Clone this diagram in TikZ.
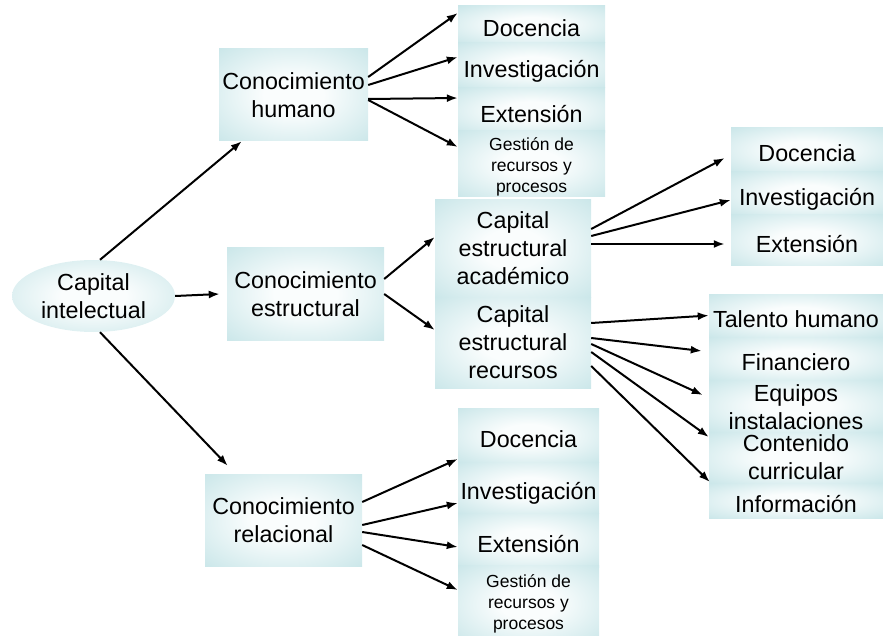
\documentclass[tikz,border=0pt]{standalone}
\usepackage{fontspec}
\setmainfont{Liberation Sans}
\usetikzlibrary{arrows.meta,shapes.geometric}
\definecolor{cellout}{RGB}{180,220,224}
\definecolor{cellin}{RGB}{250,253,253}
\pgfdeclareradialshading{cellshade}{\pgfpoint{0bp}{0bp}}{color(0bp)=(cellin); color(10bp)=(cellin); color(48bp)=(cellout); color(100bp)=(cellout)}

\begin{document}
\begin{tikzpicture}[x=1pt,y=1pt,
  cell/.style={rectangle, shading=cellshade, inner sep=0pt, align=center, font=\fontsize{23.3}{28}\selectfont},
  onecell/.style={cell, text height=24pt, text depth=0pt},
  smallcell/.style={cell, font=\fontsize{17.5}{21}\selectfont},
  link/.style={draw, line width=2pt, -{Latex[length=11pt,width=8pt]}}]
\path[use as bounding box] (0,0) rectangle (883,-636);

\node[cell, ellipse, minimum width=163pt, minimum height=72pt] (ci) at (93.5,-296) {Capital\\intelectual};

\node[cell, minimum width=149pt, minimum height=92pt] (hum) at (293.5,-95) {Conocimiento\\humano};
\node[cell, minimum width=157pt, minimum height=92pt] (est) at (305.5,-294) {Conocimiento\\estructural};
\node[cell, minimum width=157pt, minimum height=92pt] (rel) at (283.5,-520) {Conocimiento\\relacional};

\node[onecell, minimum width=147pt, minimum height=37pt] (hdoc) at (531.5,-24.5) {Docencia};
\node[onecell, minimum width=147pt, minimum height=45pt] (hinv) at (531.5,-65.5) {Investigación};
\node[onecell, minimum width=147pt, minimum height=45pt] (hext) at (531.5,-110.5) {Extensión};
\node[smallcell, minimum width=147pt, minimum height=61pt] (hges) at (531.5,-163.5) {\rule{0pt}{20pt}Gestión de\\recursos y\\procesos};

\node[cell, minimum width=156pt, minimum height=97pt] (acad) at (513,-248.5) {Capital\\estructural\\académico};
\node[cell, minimum width=156pt, minimum height=91pt] (recu) at (513,-342.5) {Capital\\estructural\\recursos};

\node[onecell, minimum width=152pt, minimum height=44pt] (adoc) at (807,-150) {Docencia};
\node[onecell, minimum width=152pt, minimum height=43pt] (ainv) at (807,-193.5) {Investigación};
\node[onecell, minimum width=152pt, minimum height=51pt] (aext) at (807,-240.5) {Extensión};

\node[onecell, minimum width=174pt, minimum height=43pt] (rtal) at (796,-315.5) {Talento humano};
\node[onecell, minimum width=174pt, minimum height=43pt] (rfin) at (796,-358.5) {Financiero};
\node[cell, minimum width=174pt, minimum height=52pt] (requ) at (796,-406) {\rule{0pt}{20pt}Equipos\\instalaciones};
\node[cell, minimum width=174pt, minimum height=51pt] (rcon) at (796,-457.5) {Contenido\\curricular};
\node[onecell, minimum width=174pt, minimum height=35pt] (rinf) at (796,-500.5) {Información};

\node[onecell, minimum width=141pt, minimum height=54pt] (ldoc) at (528.5,-435) {Docencia};
\node[onecell, minimum width=141pt, minimum height=51pt] (linv) at (528.5,-487.5) {Investigación};
\node[onecell, minimum width=141pt, minimum height=54pt] (lext) at (528.5,-540) {Extensión};
\node[smallcell, minimum width=141pt, minimum height=78pt] (lges) at (528.5,-604) {Gestión de\\recursos y\\procesos};

\path[link] ([xshift=6.5pt]ci.north) -- ([xshift=23pt]hum.south west);
\path[link] (ci.east) -- ([xshift=-7pt]est.west);
\path[link] ([xshift=6.5pt]ci.south) -- ([xshift=23pt,yshift=8pt]rel.north west);

\path[link] ([yshift=18pt]hum.east) -- ([yshift=11.5pt]hdoc.west);
\path[link] ([yshift=10pt]hum.east) -- ([yshift=8.5pt]hinv.west);
\path[link] ([yshift=-4pt]hum.east) -- ([yshift=12.5pt]hext.west);
\path[link] ([yshift=-5pt]hum.east) -- ([yshift=16.5pt]hges.west);

\path[link] ([yshift=15pt]est.east) -- ([yshift=11.5pt]acad.west);
\path[link] (est.east) -- ([yshift=12.5pt]recu.west);

\path[link] ([yshift=19.5pt]acad.east) -- ([xshift=-6pt,yshift=-8pt]adoc.west);
\path[link] ([yshift=12.5pt]acad.east) -- ([yshift=-6.5pt]ainv.west);
\path[link] ([yshift=4.5pt]acad.east) -- ([xshift=-6pt,yshift=-3.5pt]aext.west);

\path[link] ([yshift=19.5pt]recu.east) -- (rtal.west);
\path[link] ([yshift=4.5pt]recu.east) -- ([xshift=-7pt,yshift=7.5pt]rfin.west);
\path[link] ([yshift=-1.5pt]recu.east) -- ([xshift=-6pt,yshift=11pt]requ.west);
\path[link] ([yshift=-9.5pt]recu.east) -- ([yshift=20.5pt]rcon.west);
\path[link] ([yshift=-23.5pt]recu.east) -- ([xshift=1pt,yshift=18.5pt]rinf.west);

\path[link] ([yshift=18pt]rel.east) -- ([yshift=-24pt]ldoc.west);
\path[link] ([yshift=-5pt]rel.east) -- ([yshift=-15.5pt]linv.west);
\path[link] ([yshift=-12pt]rel.east) -- ([yshift=-7pt]lext.west);
\path[link] ([yshift=-25pt]rel.east) -- ([yshift=14pt]lges.west);
\end{tikzpicture}
\end{document}
